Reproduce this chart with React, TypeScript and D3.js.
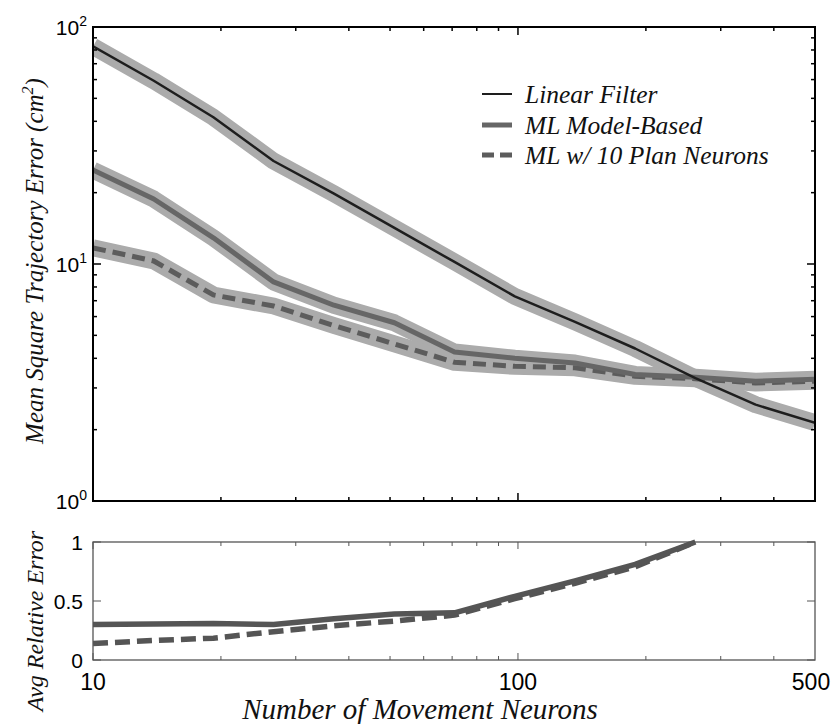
import React from 'react'
import * as d3 from 'd3'

// number of movement neurons (x positions of the samples)
const neurons = [10, 13.9, 19.2, 26.6, 36.9, 51.2, 70.9, 98.3, 136.2, 188.7, 261.5, 362.4, 500]

// mean square trajectory error (cm^2)
const linearFilter = [82.8, 59.3, 41.6, 27.2, 19.8, 14.2, 10.2, 7.3, 5.7, 4.4, 3.3, 2.55, 2.14]
const mlModel = [24.9, 18.8, 12.9, 8.4, 6.7, 5.65, 4.25, 4.0, 3.82, 3.42, 3.33, 3.2, 3.26]
const mlPlan = [11.7, 10.3, 7.4, 6.65, 5.5, 4.6, 3.85, 3.7, 3.65, 3.36, 3.28, 3.15, 3.2]

// avg relative error (ML / linear filter), stops where it reaches 1
const relModel = [0.3, 0.305, 0.31, 0.3, 0.35, 0.39, 0.4, 0.54, 0.67, 0.81, 1.0]
const relPlan = [0.14, 0.165, 0.185, 0.24, 0.29, 0.33, 0.38, 0.52, 0.65, 0.79, 1.0]

const legendItems = ['Linear Filter', 'ML Model-Based', 'ML w/ 10 Plan Neurons']
const xMajor = [10, 100]
const xMinor = [20, 30, 40, 50, 60, 70, 80, 90, 200, 300, 400]
const xLabels = [10, 100, 500]
const yMajor = [1, 10, 100]
const yMinor = [2, 3, 4, 5, 6, 7, 8, 9, 20, 30, 40, 50, 60, 70, 80, 90]
const relTicks = [0, 0.5, 1]

const SANS = "'Liberation Sans', Arial, sans-serif"
const SERIF = "'Liberation Serif', 'Times New Roman', serif"

const App = () => {
  const svgRef = React.useRef<SVGSVGElement>(null)
  const width = 833
  const height = 724

  React.useEffect(() => {
    const svg = d3.select(svgRef.current)
    svg.selectAll('*').remove()

    const left = 93
    const right = 815
    const top = 27
    const mid = 501
    const botTop = 542
    const botBottom = 660

    const x = d3.scaleLog().domain([10, 500]).range([left, right])
    const y = d3.scaleLog().domain([1, 100]).range([mid, top])
    const yr = d3.scaleLinear().domain([0, 1]).range([botBottom, botTop])

    svg.append('rect').attr('width', width).attr('height', height).attr('fill', '#fff')

    svg.append('clipPath').attr('id', 'clipTop')
      .append('rect').attr('x', left).attr('y', top).attr('width', right - left).attr('height', mid - top)
    svg.append('clipPath').attr('id', 'clipBot')
      .append('rect').attr('x', left).attr('y', botTop - 4).attr('width', right - left).attr('height', botBottom - botTop + 4)

    const lineTop = d3.line<number>().x((_, i) => x(neurons[i])).y((d) => y(d))
    const lineBot = d3.line<number>().x((_, i) => x(neurons[i])).y((d) => yr(d))

    // ---------- top panel ----------
    const gTop = svg.append('g').attr('clip-path', 'url(#clipTop)')
    ;[linearFilter, mlModel, mlPlan].forEach((s) => {
      gTop.append('path').attr('d', lineTop(s)).attr('fill', 'none')
        .attr('stroke', '#ababab').attr('stroke-width', 17).attr('stroke-linejoin', 'round')
    })
    gTop.append('path').attr('d', lineTop(mlPlan)).attr('fill', 'none')
      .attr('stroke', '#5c5c5c').attr('stroke-width', 5).attr('stroke-dasharray', '13,7')
    gTop.append('path').attr('d', lineTop(mlModel)).attr('fill', 'none')
      .attr('stroke', '#666').attr('stroke-width', 5).attr('stroke-linejoin', 'round')
    gTop.append('path').attr('d', lineTop(linearFilter)).attr('fill', 'none')
      .attr('stroke', '#1e1e1e').attr('stroke-width', 2.5).attr('stroke-linejoin', 'round')

    // frame + ticks
    const axTop = svg.append('g').attr('stroke', '#000').attr('stroke-width', 1.5)
    axTop.append('rect').attr('x', left).attr('y', top).attr('width', right - left).attr('height', mid - top)
      .attr('fill', 'none').attr('stroke-width', 2)
    const xt = [...xMajor.map((v) => [v, 8]), ...xMinor.map((v) => [v, 4])]
    xt.forEach(([v, len]) => {
      axTop.append('line').attr('x1', x(v)).attr('x2', x(v)).attr('y1', mid).attr('y2', mid - len)
      axTop.append('line').attr('x1', x(v)).attr('x2', x(v)).attr('y1', top).attr('y2', top + len)
    })
    const yt = [...yMajor.map((v) => [v, 8]), ...yMinor.map((v) => [v, 4])]
    yt.forEach(([v, len]) => {
      axTop.append('line').attr('x1', left).attr('x2', left + len).attr('y1', y(v)).attr('y2', y(v))
      axTop.append('line').attr('x1', right).attr('x2', right - len).attr('y1', y(v)).attr('y2', y(v))
    })

    yMajor.forEach((v) => {
      const t = svg.append('text').attr('x', 87).attr('y', y(v) + 8)
        .attr('text-anchor', 'end').style('font', `21px ${SANS}`).attr('fill', '#000')
      t.append('tspan').text('10')
      t.append('tspan').attr('dy', -9).style('font-size', '14px').text(String(Math.round(Math.log10(v))))
    })

    // legend
    const lg = svg.append('g')
    const ly = [94, 125, 155]
    lg.append('line').attr('x1', 482).attr('x2', 512).attr('y1', ly[0]).attr('y2', ly[0])
      .attr('stroke', '#1e1e1e').attr('stroke-width', 2)
    lg.append('line').attr('x1', 482).attr('x2', 512).attr('y1', ly[1]).attr('y2', ly[1])
      .attr('stroke', '#666').attr('stroke-width', 5)
    lg.append('line').attr('x1', 482).attr('x2', 512).attr('y1', ly[2]).attr('y2', ly[2])
      .attr('stroke', '#5c5c5c').attr('stroke-width', 5).attr('stroke-dasharray', '12,6')
    legendItems.forEach((txt, i) => {
      lg.append('text').attr('x', 525).attr('y', ly[i] + 9)
        .style('font', `italic 25.5px ${SERIF}`).attr('fill', '#111').text(txt)
    })

    // y label top
    const yl = svg.append('text').attr('transform', `translate(43,261) rotate(-90)`)
      .attr('text-anchor', 'middle').style('font', `italic 25px ${SERIF}`).attr('fill', '#111')
    yl.append('tspan').text('Mean Square Trajectory Error (cm')
    yl.append('tspan').attr('dy', -10).style('font-size', '16px').text('2')
    yl.append('tspan').attr('dy', 10).text(')')

    // ---------- bottom panel ----------
    const gBot = svg.append('g').attr('clip-path', 'url(#clipBot)')
    gBot.append('path').attr('d', lineBot(relPlan)).attr('fill', 'none')
      .attr('stroke', '#555').attr('stroke-width', 5.5).attr('stroke-dasharray', '15,7')
    gBot.append('path').attr('d', lineBot(relModel)).attr('fill', 'none')
      .attr('stroke', '#555').attr('stroke-width', 5.5).attr('stroke-linejoin', 'round')

    const axBot = svg.append('g').attr('stroke', '#555').attr('stroke-width', 1)
    axBot.append('rect').attr('x', left).attr('y', botTop).attr('width', right - left).attr('height', botBottom - botTop)
      .attr('fill', 'none').attr('stroke-width', 1.3)
    xt.forEach(([v, len]) => {
      const l = len === 8 ? 7 : 4
      axBot.append('line').attr('x1', x(v)).attr('x2', x(v)).attr('y1', botBottom).attr('y2', botBottom - l)
      axBot.append('line').attr('x1', x(v)).attr('x2', x(v)).attr('y1', botTop).attr('y2', botTop + l)
    })
    relTicks.forEach((v) => {
      axBot.append('line').attr('x1', left).attr('x2', left + 8).attr('y1', yr(v)).attr('y2', yr(v))
      axBot.append('line').attr('x1', right).attr('x2', right - 8).attr('y1', yr(v)).attr('y2', yr(v))
      svg.append('text').attr('x', 83).attr('y', yr(v) + 8).attr('text-anchor', 'end')
        .style('font', `21px ${SANS}`).attr('fill', '#000').text(String(v))
    })

    xLabels.forEach((v) => {
      svg.append('text').attr('x', v === 500 ? 811 : x(v)).attr('y', 690).attr('text-anchor', 'middle')
        .style('font', `23px ${SANS}`).attr('fill', '#000').text(String(v))
    })

    svg.append('text').attr('x', 420).attr('y', 719).attr('text-anchor', 'middle')
      .style('font', `italic 29px ${SERIF}`).attr('fill', '#111').text('Number of Movement Neurons')

    svg.append('text').attr('transform', `translate(43,621) rotate(-90)`)
      .attr('text-anchor', 'middle').style('font', `italic 24px ${SERIF}`).attr('fill', '#111')
      .text('Avg Relative Error')
  }, [])

  return <svg ref={svgRef} width={width} height={height} style={{ position: 'absolute', left: 0, top: 0 }} />
}

export default App
